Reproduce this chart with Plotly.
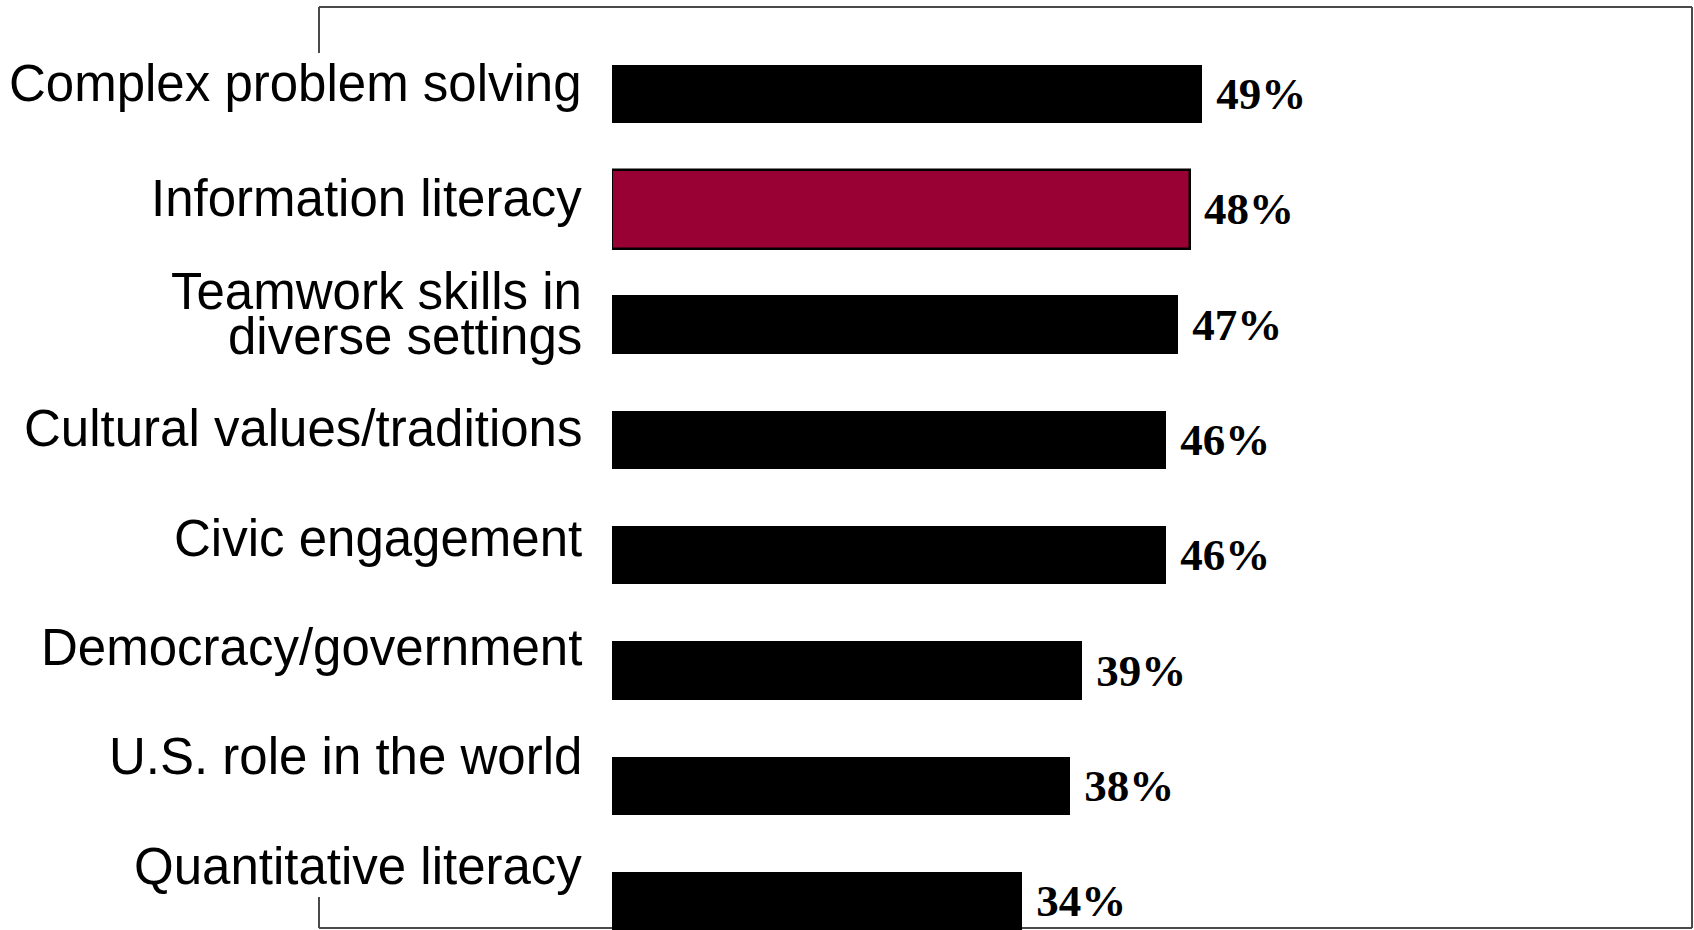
import plotly.graph_objects as go

# ---- data ----
categories = [
    "Complex problem solving",
    "Information literacy",
    "Teamwork skills in<br>diverse settings",
    "Cultural values/traditions",
    "Civic engagement",
    "Democracy/government",
    "U.S. role in the world",
    "Quantitative literacy",
]
values = [49, 48, 47, 46, 46, 39, 38, 34]
highlight = "Information literacy"

# ---- style ----
W, H = 1694, 930
BAR_COLOR = "#000000"
HIGHLIGHT_COLOR = "#990033"
FRAME_COLOR = "#4a4a4a"
LABEL_FONT = dict(family="Liberation Sans, Arial", size=51, color="#000000")
VALUE_FONT = dict(family="Liberation Serif, Times New Roman", size=45, color="#000000")
label_nudge_px = [11, 11, 11, 11, 17, 23, 29, 35]   # upward nudge of category labels
multiline_gap_px = 45

idx = list(range(len(categories)))
colors = [HIGHLIGHT_COLOR if c == highlight else BAR_COLOR for c in categories]
widths = [0.69 if c == highlight else 0.505 for c in categories]
line_w = [2.5 if c == highlight else 0 for c in categories]

fig = go.Figure()
fig.add_trace(go.Bar(
    x=values,
    y=idx,
    orientation="h",
    width=widths,
    marker=dict(color=colors, line=dict(color="#000000", width=line_w)),
    text=["\u00a0" + f"<b>{v}%</b>" for v in values],
    textposition="outside",
    textfont=VALUE_FONT,
    constraintext="none",
    cliponaxis=False,
    hoverinfo="skip",
))

# category labels as annotations anchored to the bar positions
annotations = []
for i, (cat, nudge) in enumerate(zip(categories, label_nudge_px)):
    lines = cat.split("<br>")
    n = len(lines)
    for k, line in enumerate(lines):
        offset = ((n - 1) / 2 - k) * multiline_gap_px
        annotations.append(dict(
            x=584 / W, xref="paper", xanchor="right",
            y=i, yref="y", yanchor="middle",
            yshift=nudge + offset,
            text=line, showarrow=False, font=LABEL_FONT,
        ))

# frame (left side hidden behind label block)
fx0, fx1 = 319 / W, 1692 / W
fy_top, fy_bot = 1 - 7 / H, 1 - 928 / H
frame = dict(type="line", xref="paper", yref="paper",
             line=dict(color=FRAME_COLOR, width=2), layer="below")
shapes = [
    dict(frame, x0=fx0, x1=fx1, y0=fy_top, y1=fy_top),
    dict(frame, x0=fx1, x1=fx1, y0=fy_top, y1=fy_bot),
    dict(frame, x0=fx0, x1=fx1, y0=fy_bot, y1=fy_bot),
    dict(frame, x0=fx0, x1=fx0, y0=fy_top, y1=1 - 53 / H),
    dict(frame, x0=fx0, x1=fx0, y0=1 - 897 / H, y1=fy_bot),
]

px_per_pct = 12.05
plot_left = 612
bar0_center, bar_step = 94, 115.3

fig.update_layout(
    width=W, height=H,
    margin=dict(l=0, r=0, t=0, b=0),
    paper_bgcolor="white", plot_bgcolor="rgba(0,0,0,0)",
    showlegend=False,
    bargap=0,
    xaxis=dict(domain=[plot_left / W, 1], range=[0, (W - plot_left) / px_per_pct],
               visible=False, fixedrange=True),
    yaxis=dict(domain=[0, 1],
               range=[(H - bar0_center) / bar_step, -bar0_center / bar_step],
               visible=False, fixedrange=True),
    annotations=annotations,
    shapes=shapes,
)

fig.write_html("out.html", config={"displayModeBar": False})
